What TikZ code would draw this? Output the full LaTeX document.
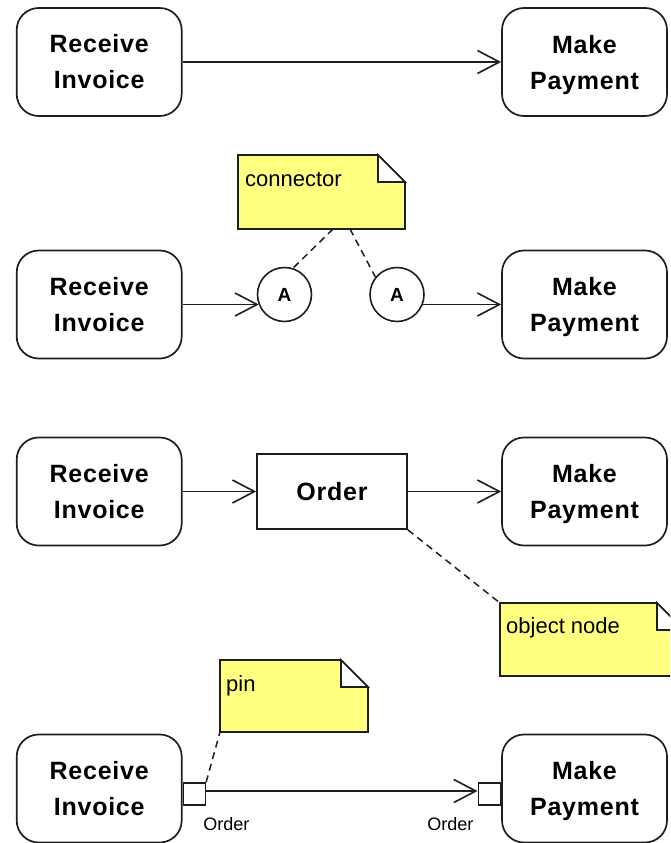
\documentclass[tikz,border=0pt]{standalone}
\usepackage{fontspec}
\setmainfont{Liberation Sans}
\usetikzlibrary{arrows.meta}
\definecolor{noteyellow}{RGB}{255,255,128}
\definecolor{ink}{RGB}{30,30,30}
\newcommand{\drawnotefold}[1]{%
  \filldraw[notebody] (#1.north west) -- ([xshift=-27pt]#1.north east) -- ([yshift=-27pt]#1.north east) -- (#1.south east) -- (#1.south west) -- cycle;
  \filldraw[notecorner] ([xshift=-27pt]#1.north east) -- ([xshift=-27pt,yshift=-27pt]#1.north east) -- ([yshift=-27pt]#1.north east) -- cycle;}
\tikzset{
  action/.style={draw=ink, line width=1.7pt, rounded corners=22pt, minimum width=165pt, minimum height=108pt,
    align=center, inner sep=0pt, font=\fontsize{25}{36}\selectfont\bfseries\addfontfeature{LetterSpace=3}},
  objbox/.style={draw=ink, line width=1.7pt, minimum width=150pt, minimum height=75pt, inner sep=0pt,
    font=\fontsize{25}{36}\selectfont\bfseries\addfontfeature{LetterSpace=3}},
  conncircle/.style={draw=ink, line width=1.6pt, circle, minimum size=54pt, inner sep=0pt,
    font=\fontsize{19}{19}\selectfont\bfseries},
  pinbox/.style={draw=ink, fill=white, line width=1.6pt, minimum width=22pt, minimum height=22pt, inner sep=0pt},
  noteframe/.style={draw=none, inner sep=0pt, outer sep=0pt, anchor=north west},
  notebody/.style={draw=ink, fill=noteyellow, line width=1.6pt, line join=miter},
  notecorner/.style={draw=ink, fill=white, line width=1.6pt},
  notetext/.style={anchor=base west, inner sep=0pt, font=\fontsize{22}{26}\selectfont},
  pinlabel/.style={inner sep=0pt, font=\fontsize{18}{20}\selectfont},
  flow/.style={draw=ink, line width=1.6pt, -{Straight Barb[length=22pt,width=23pt,line width=1.6pt]}},
  anchorline/.style={draw=ink, line width=1.5pt, dash pattern=on 7pt off 5pt}
}
\begin{document}
\begin{tikzpicture}[x=1pt,y=-1pt]
\useasboundingbox (0,0) rectangle (670,843);
\clip (0,0) rectangle (670,843);

% Row 1
\node[action] (ri1) at (99.2,62) {Receive\\Invoice};
\node[action] (mp1) at (584.5,62) {Make\\\smash{Payment}};
\draw[flow] (ri1.east) -- (mp1.west);

% Row 2
\node[action] (ri2) at (99.2,304.5) {Receive\\Invoice};
\node[action] (mp2) at (584.5,304.5) {Make\\\smash{Payment}};
\node[conncircle] (a1) at (284.5,294.5) {A};
\node[conncircle] (a2) at (397,294.5) {A};
\draw[flow] (ri2.east) -- (ri2.east -| a1.202);
\draw[flow] (mp2.west -| a2.-22) -- (mp2.west);
\node[noteframe, minimum width=167pt, minimum height=74pt] (n1) at (238,155) {};
\drawnotefold{n1}
\node[notetext] (t1) at ([xshift=7pt,yshift=-31pt]n1.north west) {connector};
\draw[anchorline] ([xshift=95pt]n1.south west) -- (a1.72);
\draw[anchorline] ([xshift=112pt]n1.south west) -- (a2.141);

% Row 3
\node[action] (ri3) at (99.2,491.5) {Receive\\Invoice};
\node[action] (mp3) at (584.5,491.5) {Make\\\smash{Payment}};
\node[objbox] (ord) at (332,491.5) {Order};
\draw[flow] (ri3.east) -- (ord.west);
\draw[flow] (ord.east) -- (mp3.west);
\node[noteframe, minimum width=184pt, minimum height=73pt] (n3) at (500,603) {};
\draw[anchorline] (ord.south east) -- (n3.north west);
\drawnotefold{n3}
\node[notetext] (t3) at ([xshift=6pt,yshift=-30pt]n3.north west) {object node};

% Row 4
\node[action] (ri4) at (99.2,788.5) {Receive\\Invoice};
\node[action] (mp4) at (584.5,788.5) {Make\\\smash{Payment}};
\node[pinbox, anchor=west] (p1) at ([yshift=-5.5pt]ri4.east) {};
\node[pinbox, anchor=east] (p2) at ([yshift=-5.5pt]mp4.west) {};
\draw[flow] ([yshift=3pt]p1.east) -- ([yshift=3pt]p2.west);
\node[pinlabel, anchor=base west] (l1) at ([xshift=-3pt,yshift=-25pt]p1.south east) {Order};
\node[pinlabel, anchor=base east] (l2) at ([xshift=-4pt,yshift=-25pt]p2.south west) {Order};
\node[noteframe, minimum width=148pt, minimum height=72pt] (n4) at (220,660) {};
\drawnotefold{n4}
\node[notetext] (t4) at ([xshift=6pt,yshift=-31pt]n4.north west) {pin};
\draw[anchorline] (p1.north east) -- (n4.south west);
\end{tikzpicture}
\end{document}
